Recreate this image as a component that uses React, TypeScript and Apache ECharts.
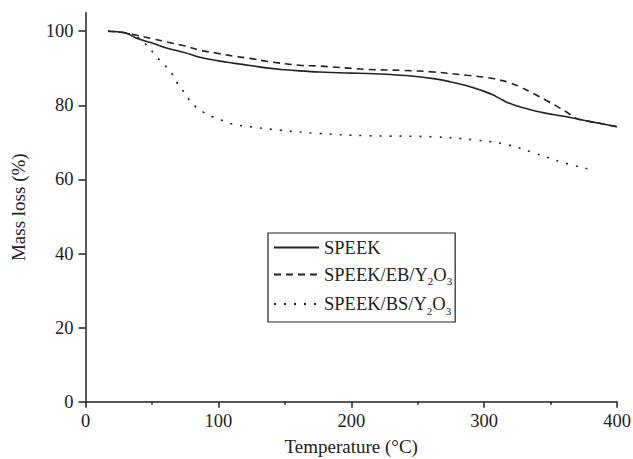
import React, { useEffect, useRef } from "react";
import * as echarts from "echarts";

const speekT = [17, 30, 38, 50, 61, 75, 86, 100, 111, 125, 136, 150, 161, 176, 200, 212, 230, 249, 262, 274, 287, 299, 306, 312, 318, 325, 333, 342, 352, 362, 380, 400];
const speekM = [100, 99.5, 98.2, 96.8, 95.5, 94.2, 93, 92, 91.4, 90.7, 90.1, 89.6, 89.3, 89.0, 88.7, 88.6, 88.3, 87.8, 87.2, 86.4, 85.3, 83.9, 82.9, 81.8, 80.7, 79.8, 79, 78.2, 77.5, 76.9, 75.6, 74.2];

const ebT = [17, 30, 38.5, 50, 61, 75, 86, 100, 111, 125, 136, 161, 176, 212, 240, 262, 287, 300, 312, 320, 327, 337, 349, 362, 370, 385, 400];
const ebM = [100, 99.6, 98.9, 98.0, 97.1, 96, 94.9, 94, 93.3, 92.6, 91.9, 90.8, 90.6, 89.7, 89.4, 89.0, 88.1, 87.6, 86.8, 86, 85, 83.2, 80.9, 78.2, 76.4, 75.3, 74.2];

const bsT = [17, 30, 38.5, 44.8, 54.8, 59.8, 64.9, 68.6, 73, 77.4, 83, 89, 95.7, 102.5, 108.7, 124, 146, 176, 211, 262, 294, 317, 337, 360, 380];
const bsM = [100, 99.5, 98.5, 96.7, 92.6, 90.8, 88.6, 86.3, 84.1, 81.8, 79.6, 78.1, 76.9, 76.0, 75.1, 74.2, 73.3, 72.4, 71.8, 71.5, 70.6, 69.4, 67.2, 64.5, 62.7];

const seriesNames = ["SPEEK", "SPEEK/EB/Y2O3", "SPEEK/BS/Y2O3"];
const legendLabels = ["SPEEK", "SPEEK/EB/Y{sub|2}O{sub|3}", "SPEEK/BS/Y{sub|2}O{sub|3}"];
const yTicks = [0, 20, 40, 60, 80, 100];

const zip = (a: number[], b: number[]) => a.map((v, i) => [v, b[i]]);

const FONT = "'Liberation Serif', 'DejaVu Serif', serif";
const INK = "#222";

export default function App() {
  const ref = useRef<HTMLDivElement>(null);
  useEffect(() => {
    if (!ref.current) return;
    const chart = echarts.init(ref.current, undefined, { renderer: "svg" });
    const mk = (name: string, d: number[][], type: any) => ({
      name,
      type: "line",
      data: d,
      smooth: 0.4,
      symbol: "none",
      showSymbol: false,
      lineStyle: { color: INK, width: 1.6, type },
      itemStyle: { color: INK },
    });
    chart.setOption({
      animation: false,
      backgroundColor: "#fff",
      textStyle: { fontFamily: FONT },
      grid: { left: 85.5, right: 16, top: 12.7, bottom: 57.3, containLabel: false, outerBoundsMode: "none" },
      xAxis: {
        type: "value",
        min: 0,
        max: 400,
        interval: 100,
        name: "Temperature (°C)",
        nameLocation: "middle",
        nameGap: 35,
        nameTextStyle: { fontFamily: FONT, fontSize: 19, color: INK },
        axisLine: { lineStyle: { color: INK, width: 1.5 } },
        axisTick: { show: true, inside: false, length: 6, lineStyle: { color: INK, width: 1.5 } },
        minorTick: { show: true, splitNumber: 2, length: 3, lineStyle: { color: INK, width: 1.5 } },
        axisLabel: { fontFamily: FONT, fontSize: 18.5, color: INK, margin: 10 },
        splitLine: { show: false },
        minorSplitLine: { show: false },
      },
      yAxis: {
        type: "value",
        min: 0,
        max: 105,
        name: "Mass loss (%)",
        nameLocation: "middle",
        nameGap: 58,
        nameTextStyle: { fontFamily: FONT, fontSize: 19, color: INK },
        axisLine: { show: true, lineStyle: { color: INK, width: 1.5 } },
        axisTick: { show: true, inside: false, length: 7, customValues: yTicks, lineStyle: { color: INK, width: 1.5 } },
        axisLabel: { fontFamily: FONT, fontSize: 18.5, color: INK, margin: 12, customValues: yTicks },
        splitLine: { show: false },
      },
      legend: {
        show: true,
        orient: "vertical",
        left: 268,
        top: 233,
        padding: [5, 3, 6, 5],
        itemGap: 8,
        itemWidth: 45,
        itemHeight: 14,
        borderColor: INK,
        borderWidth: 1.2,
        borderRadius: 0,
        backgroundColor: "#fff",
        data: seriesNames,
        itemStyle: { color: "transparent", borderColor: "transparent", borderWidth: 0, opacity: 0 },
        formatter: (name: string) => legendLabels[seriesNames.indexOf(name)],
        textStyle: {
          fontFamily: FONT,
          fontSize: 18.5,
          color: INK,
          rich: {
            sub: { fontFamily: FONT, fontSize: 11, color: INK, verticalAlign: "bottom", padding: [13, 0, 0, 0] },
          },
        },
      },
      series: [
        mk(seriesNames[0], zip(speekT, speekM), "solid"),
        mk(seriesNames[1], zip(ebT, ebM), [7, 5]),
        mk(seriesNames[2], zip(bsT, bsM), [2, 8]),
      ],
    });
    return () => chart.dispose();
  }, []);
  return <div ref={ref} style={{ width: 633, height: 459, position: "absolute", left: 0, top: 0 }} />;
}
